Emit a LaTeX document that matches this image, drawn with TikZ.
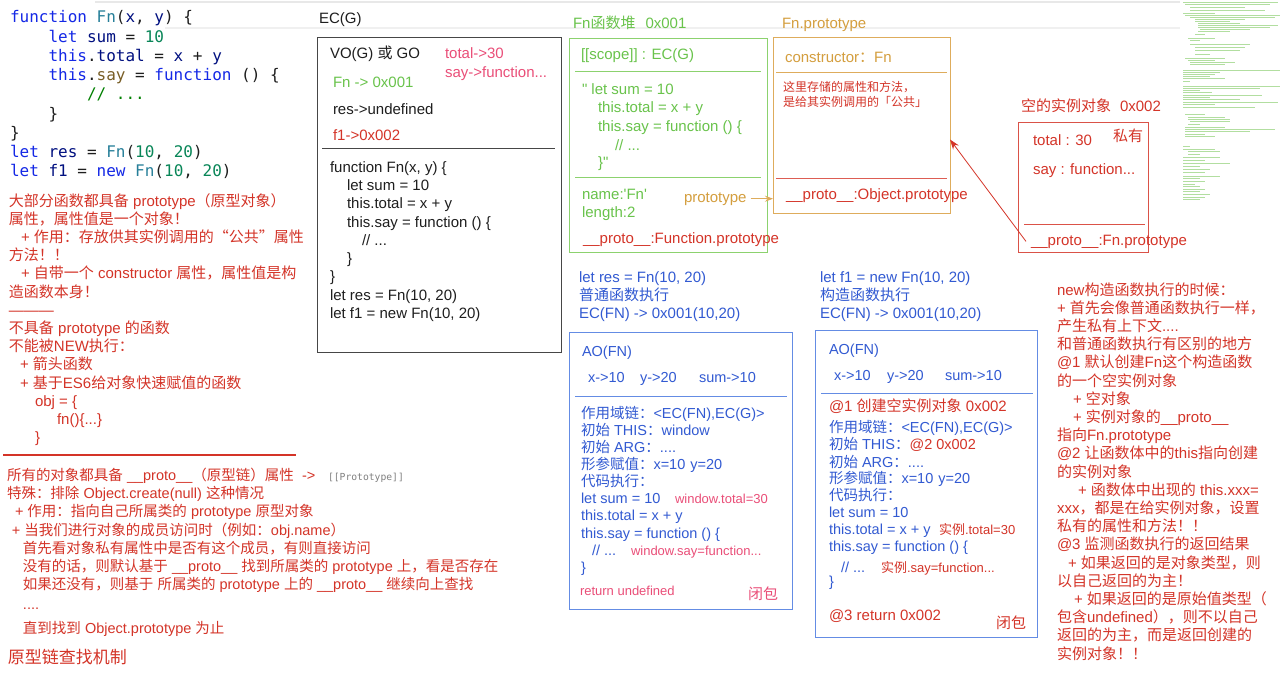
\documentclass[tikz,border=0pt]{standalone}
\usepackage{fontspec}
\setmainfont{Liberation Sans}[Ligatures=TeXOff]
\setmonofont{DejaVu Sans Mono}
\newfontfamily\cjk{Noto Sans CJK SC}
\usetikzlibrary{arrows.meta}

% automatic switch to the CJK font for Chinese characters
\XeTeXinterchartokenstate=1
\chardef\CJKcls=10
\newcount\cc
\def\setcls#1#2{\cc=#1\relax\loop\XeTeXcharclass\cc=\CJKcls\relax\ifnum\cc<#2\advance\cc by 1\repeat}
\setcls{"3000}{"303F}
\setcls{"4E00}{"9FFF}
\setcls{"FF00}{"FFEF}
\setcls{"201C}{"201D}
\XeTeXinterchartoks 0 \CJKcls = {\cjk}
\XeTeXinterchartoks 4095 \CJKcls = {\cjk}
\XeTeXinterchartoks \CJKcls 0 = {\normalfont}
\XeTeXinterchartoks \CJKcls 4095 = {\normalfont}

\definecolor{rd}{RGB}{212,52,40}
\definecolor{pk}{RGB}{234,78,120}
\definecolor{gr}{RGB}{105,195,75}
\definecolor{grl}{RGB}{140,210,110}
\definecolor{og}{RGB}{212,158,62}
\definecolor{ogl}{RGB}{222,172,92}
\definecolor{bl}{RGB}{50,90,210}
\definecolor{bll}{RGB}{100,140,228}
\definecolor{dk}{RGB}{30,30,30}
\definecolor{gl}{RGB}{70,70,70}
\definecolor{kw}{RGB}{20,40,230}
\definecolor{fnc}{RGB}{38,127,153}
\definecolor{var}{RGB}{0,16,128}
\definecolor{num}{RGB}{9,134,88}
\definecolor{say}{RGB}{121,94,38}
\definecolor{cm}{RGB}{0,128,0}
\definecolor{mini}{RGB}{178,222,160}

\tikzset{
  txt/.style={anchor=base west, inner sep=0pt, outer sep=0pt, text=dk, font=\fontsize{15}{18}\selectfont},
  cur/.style={},
  sm/.style={font=\fontsize{13}{15}\selectfont},
  tiny/.style={font=\fontsize{12}{14}\selectfont},
  ao/.style={text=bl, font=\fontsize{14.5}{17}\selectfont},
  code/.style={font={\ttfamily\fontsize{16}{19}\selectfont}},
  box/.style={draw, inner sep=0pt, outer sep=0pt, anchor=north west, line width=1pt},
}
\newcounter{tn}
\newcommand\lbl[4][]{\stepcounter{tn}\node[txt,cur,#1] (t\arabic{tn}) at (#2,#3) {#4};}

\begin{document}
\begin{tikzpicture}[x=1pt,y=-1pt]
\useasboundingbox (0,0) rectangle (1280,683);
\fill[white] (0,0) rectangle (1280,683);

% window strips
\draw[gray!18, line width=1.5pt] (95,2) -- (1180,2);
\draw[gray!12, line width=2.5pt] (165,28) -- (1180,28);

% minimap
\foreach \yy/\xa/\xb in {2/1183/1278,4/1185/1270,7/1190/1245,10/1190/1265,13/1183/1215,15/1185/1280,17/1190/1275,19/1195/1245,21/1195/1230,23/1198/1240,25/1198/1278,27/1198/1270,29/1200/1250,31/1198/1230,34/1195/1205,38/1188/1215,40/1190/1200,44/1190/1250,47/1195/1245,50/1195/1240,54/1195/1210,58/1185/1225,60/1188/1215,62/1190/1235,64/1190/1225,70/1183/1280,72/1183/1220,74/1183/1215,76/1183/1210,78/1183/1225,81/1183/1190,86/1183/1280,88/1183/1260,90/1183/1200,92/1183/1212,95/1183/1262,97/1183/1210,99/1183/1240,102/1183/1278,104/1183/1215,107/1183/1255,114/1185/1205,117/1188/1225,119/1188/1230,121/1190/1230,124/1188/1200,127/1185/1225,129/1185/1275,131/1185/1250,134/1185/1205,136/1185/1215,146/1183/1190,149/1183/1215,151/1188/1220,154/1188/1200,157/1183/1220,160/1183/1205,163/1183/1230,166/1183/1200,169/1183/1210,172/1183/1205,176/1183/1220,178/1183/1200,181/1183/1205,184/1183/1195,186/1183/1200,189/1183/1205,191/1183/1200,194/1183/1210,197/1183/1205,199/1183/1200}
  {\draw[mini, line width=0.7pt] (\xa,\yy) -- (\xb,\yy);}

% ---------- source code ----------
\lbl[code]{10}{22.7}{{\color{kw}function} {\color{fnc}Fn}({\color{var}x}, {\color{var}y}) \{}
\lbl[code]{48.5}{42}{{\color{kw}let} {\color{var}sum} = {\color{num}10}}
\lbl[code]{48.5}{61.2}{{\color{kw}this}.{\color{var}total} = {\color{var}x} + {\color{var}y}}
\lbl[code]{48.5}{80.5}{{\color{kw}this}.{\color{say}say} = {\color{kw}function} () \{}
\lbl[code]{87}{99.7}{{\color{cm}// ...}}
\lbl[code]{48.5}{119}{\}}
\lbl[code]{10}{138.2}{\}}
\lbl[code]{10}{157.5}{{\color{kw}let} {\color{var}res} = {\color{fnc}Fn}({\color{num}10}, {\color{num}20})}
\lbl[code]{10}{176.7}{{\color{kw}let} {\color{var}f1} = {\color{kw}new} {\color{fnc}Fn}({\color{num}10}, {\color{num}20})}

% ---------- left red notes ----------
\begin{scope}[cur/.style={text=rd}]
\lbl{9}{206}{大部分函数都具备 prototype（原型对象）}
\lbl{9}{224.2}{属性，属性值是一个对象！}
\lbl{21}{242.4}{+ 作用：存放供其实例调用的“公共”属性}
\lbl{9}{260.6}{方法！！}
\lbl{21}{278.8}{+ 自带一个 constructor 属性，属性值是构}
\lbl{9}{297}{造函数本身！}
\lbl{9}{315.2}{———}
\lbl{9}{333.4}{不具备 prototype 的函数}
\lbl{9}{351.6}{不能被NEW执行：}
\lbl{20}{369.8}{+ 箭头函数}
\lbl{20}{388}{+ 基于ES6给对象快速赋值的函数}
\lbl{35}{406.2}{obj = \{}
\lbl{57}{424.4}{fn()\{...\}}
\lbl{35}{442.6}{\}}
\end{scope}
\begin{scope}[cur/.style={text=rd, font=\fontsize{14.5}{18}\selectfont}]
\lbl{7}{480}{所有的对象都具备 \_\_proto\_\_（原型链）属性}
\lbl{302}{480}{->}
\lbl{7}{498}{特殊：排除 Object.create(null) 这种情况}
\lbl{15}{516}{+ 作用：指向自己所属类的 prototype 原型对象}
\lbl{12}{535}{+ 当我们进行对象的成员访问时（例如：obj.name）}
\lbl{23}{553}{首先看对象私有属性中是否有这个成员，有则直接访问}
\lbl{23}{571}{没有的话，则默认基于 \_\_proto\_\_ 找到所属类的 prototype 上，看是否存在}
\lbl{23}{589}{如果还没有，则基于 所属类的 prototype 上的 \_\_proto\_\_ 继续向上查找}
\lbl{23}{609}{....}
\lbl{23}{633}{直到找到 Object.prototype 为止}
\lbl[font=\fontsize{17}{20}\selectfont]{8}{663}{原型链查找机制}
\end{scope}
\lbl[text=gray, font={\ttfamily\fontsize{9.7}{12}\selectfont}]{328}{480}{[[Prototype]]}
\draw[rd, line width=2.5pt] (3,455) -- (296,455);

% ---------- EC(G) ----------
\lbl{319}{23}{EC(G)}
\node[box, draw=gl, minimum width=244, minimum height=315] (ecg) at (317,37) {};
\draw[gl, line width=1pt] (322,148) -- (555,148);
\lbl{330}{58}{VO(G) 或 GO}
\lbl[text=pk]{445}{58}{total->30}
\lbl[text=pk]{445}{77}{say->function...}
\lbl[text=gr]{333}{87}{Fn -> 0x001}
\lbl{333}{114}{res->undefined}
\lbl[text=rd]{333}{140}{f1->0x002}
\lbl{330}{172}{function Fn(x, y) \{}
\lbl{347}{190}{let sum = 10}
\lbl{347}{208.5}{this.total = x + y}
\lbl{347}{227}{this.say = function () \{}
\lbl{362}{245}{// ...}
\lbl{347}{263}{\}}
\lbl{330}{281.5}{\}}
\lbl{330}{300}{let res = Fn(10, 20)}
\lbl{330}{318}{let f1 = new Fn(10, 20)}

% ---------- Fn heap ----------
\lbl[text=gr]{573}{28}{Fn函数堆\hspace{10pt}0x001}
\node[box, draw=grl, minimum width=198, minimum height=214] (heap) at (569,38) {};
\draw[grl, line width=1pt] (575,71) -- (761,71);
\draw[grl, line width=1pt] (575,177) -- (761,177);
\begin{scope}[cur/.style={text=gr}]
\lbl{581}{59}{[[scope]] : EC(G)}
\lbl{582}{94}{" let sum = 10}
\lbl{598}{112}{this.total = x + y}
\lbl{598}{131}{this.say = function () \{}
\lbl{615}{150}{// ...}
\lbl{598}{167}{\}"}
\lbl{582}{199}{name:'Fn'}
\lbl{582}{217}{length:2}
\end{scope}
\node[txt, text=rd] (heapproto) at (583,243) {\_\_proto\_\_:Function.prototype};
\node[txt, text=og] (protolbl) at (684,202) {prototype};

% ---------- Fn.prototype ----------
\lbl[text=og]{782}{28}{Fn.prototype}
\node[box, draw=ogl, minimum width=177, minimum height=176] (fnpbox) at (773,37) {};
\draw[ogl, line width=1pt] (776,72) -- (947,72);
\draw[rd!80, line width=1pt] (776,178) -- (947,178);
\lbl[text=og]{785}{62}{constructor：Fn}
\lbl[text=rd, tiny]{783}{91.5}{这里存储的属性和方法，}
\lbl[text=rd, tiny]{783}{106.5}{是给其实例调用的「公共」}
\lbl[text=rd]{786}{199}{\_\_proto\_\_:Object.prototype}

\draw[ogl, line width=1.2pt, -{Stealth[length=8pt,width=6pt]}] ([xshift=4pt]protolbl.east) -- (fnpbox.west |- protolbl.east);

% ---------- instance ----------
\lbl[text=rd]{1021}{111}{空的实例对象\hspace{9pt}0x002}
\node[box, draw=rd!85, minimum width=130, minimum height=130] (inst) at (1018,122) {};
\draw[rd!85, line width=1pt] (1024,224) -- (1145,224);
\lbl[text=rd]{1033}{145}{total : 30}
\lbl[text=rd]{1113}{141}{私有}
\lbl[text=rd]{1033}{174}{say : function...}
\node[txt, text=rd] (instproto) at (1031,245) {\_\_proto\_\_:Fn.prototype};
\draw[rd, line width=0.8pt, -{Stealth[length=10pt,width=7pt]}] ([xshift=-5pt]instproto.west) -- ([yshift=-14.5pt]fnpbox.east);

% ---------- AO for ordinary call ----------
\begin{scope}[cur/.style={text=bl}]
\lbl{579}{282}{let res = Fn(10, 20)}
\lbl{579}{300}{普通函数执行}
\lbl{579}{318}{EC(FN) -> 0x001(10,20)}
\end{scope}
\node[box, draw=bll, minimum width=223, minimum height=277] (ao1) at (569,332) {};
\draw[bll, line width=1pt] (575,396) -- (787,396);
\begin{scope}[cur/.style={ao}]
\lbl{582}{356}{AO(FN)}
\lbl{588}{382}{x->10}
\lbl{640}{382}{y->20}
\lbl{699}{382}{sum->10}
\lbl{581}{418}{作用域链：<EC(FN),EC(G)>}
\lbl{581}{435}{初始 THIS：window}
\lbl{581}{452}{初始 ARG：....}
\lbl{581}{469}{形参赋值：x=10\hspace{5pt}y=20}
\lbl{581}{486}{代码执行：}
\lbl{581}{503}{let sum = 10}
\lbl{581}{520}{this.total = x + y}
\lbl{581}{538}{this.say = function () \{}
\lbl{592}{555}{// ...}
\lbl{581}{572}{\}}
\end{scope}
\lbl[text=pk, sm]{675}{503}{window.total=30}
\lbl[text=pk, sm]{631}{555}{window.say=function...}
\lbl[text=pk, sm]{580}{595}{return undefined}
\lbl[text=pk]{748}{599}{闭包}

% ---------- AO for new call ----------
\begin{scope}[cur/.style={text=bl}]
\lbl{820}{282}{let f1 = new Fn(10, 20)}
\lbl{820}{300}{构造函数执行}
\lbl{820}{318}{EC(FN) -> 0x001(10,20)}
\end{scope}
\node[box, draw=bll, minimum width=222, minimum height=307] (ao2) at (815,330) {};
\draw[bll, line width=1pt] (821,393) -- (1033,393);
\begin{scope}[cur/.style={ao}]
\lbl{829}{354}{AO(FN)}
\lbl{834}{380}{x->10}
\lbl{887}{380}{y->20}
\lbl{945}{380}{sum->10}
\lbl{829}{432}{作用域链：<EC(FN),EC(G)>}
\lbl{829}{449}{初始 THIS：{\color{rd}@2 0x002}}
\lbl{829}{467}{初始 ARG：....}
\lbl{829}{483}{形参赋值：x=10\hspace{5pt}y=20}
\lbl{829}{500}{代码执行：}
\lbl{829}{517}{let sum = 10}
\lbl{829}{534}{this.total = x + y}
\lbl{829}{551}{this.say = function () \{}
\lbl{841}{572}{// ...}
\lbl{829}{586}{\}}
\end{scope}
\lbl[text=rd]{829}{411}{@1 创建空实例对象 0x002}
\lbl[text=rd, sm]{939}{534}{实例.total=30}
\lbl[text=rd, sm]{881}{572}{实例.say=function...}
\lbl[text=rd]{829}{620}{@3 return 0x002}
\lbl[text=rd]{996}{628}{闭包}

% ---------- right red notes ----------
\begin{scope}[cur/.style={text=rd}]
\lbl{1057}{295}{new构造函数执行的时候：}
\lbl{1057}{313.2}{+ 首先会像普通函数执行一样，}
\lbl{1057}{331.4}{产生私有上下文....}
\lbl{1057}{349.6}{和普通函数执行有区别的地方}
\lbl{1057}{367.8}{@1 默认创建Fn这个构造函数}
\lbl{1057}{386}{的一个空实例对象}
\lbl{1073}{404.2}{+ 空对象}
\lbl{1073}{422.4}{+ 实例对象的\_\_proto\_\_}
\lbl{1057}{440.6}{指向Fn.prototype}
\lbl{1057}{458.8}{@2 让函数体中的this指向创建}
\lbl{1057}{477}{的实例对象}
\lbl{1078}{495.2}{+ 函数体中出现的 this.xxx=}
\lbl{1057}{513.4}{xxx，都是在给实例对象，设置}
\lbl{1057}{531.6}{私有的属性和方法！！}
\lbl{1057}{549.8}{@3 监测函数执行的返回结果}
\lbl{1068}{568}{+ 如果返回的是对象类型，则}
\lbl{1057}{586.2}{以自己返回的为主！}
\lbl{1074}{604.4}{+ 如果返回的是原始值类型（}
\lbl{1057}{622.6}{包含undefined），则不以自己}
\lbl{1057}{640.8}{返回的为主，而是返回创建的}
\lbl{1057}{659}{实例对象！！}
\end{scope}
\end{tikzpicture}
\end{document}
